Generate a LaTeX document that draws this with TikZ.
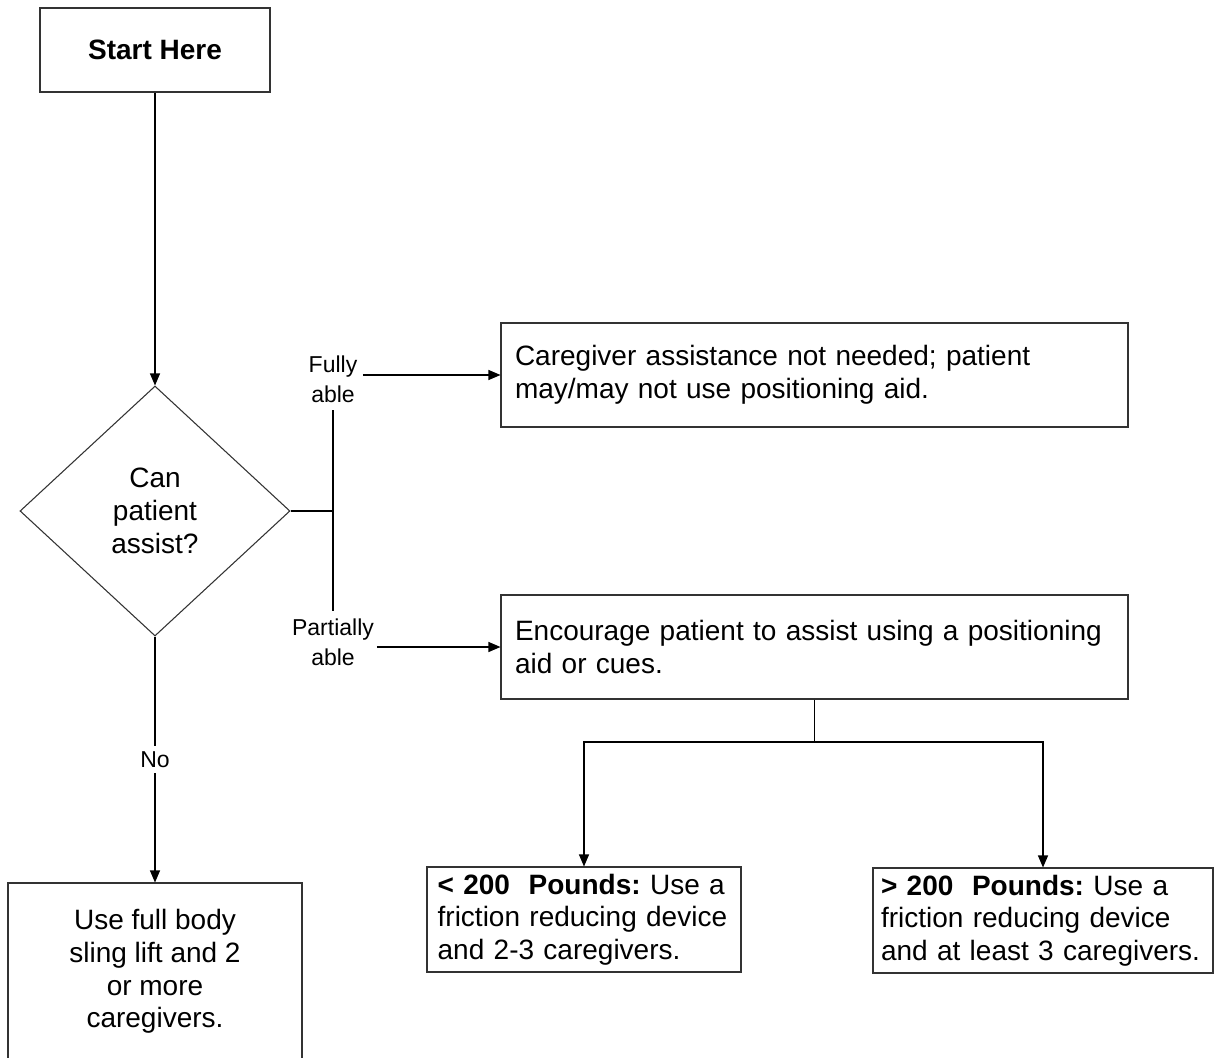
\documentclass[tikz,border=0pt]{standalone}
\usepackage{fontspec}
\setmainfont{Liberation Sans}
\usetikzlibrary{shapes.geometric,arrows.meta}
\frenchspacing
\begin{document}
\begin{tikzpicture}[x=0.75pt,y=-0.75pt,
  boxtxt/.style={font=\fontsize{21pt}{24.5pt}\selectfont},
  lbltxt/.style={font=\fontsize{17.25pt}{22.5pt}\selectfont},
  bx/.style={draw=black!80,line width=0.8pt,boxtxt,inner ysep=0pt},
  lbl/.style={lbltxt,align=center,inner sep=1pt},
  ln/.style={draw=black,line width=0.8pt},
  arr/.style={ln,-{Triangle[length=9pt,width=7.5pt]}}]
\useasboundingbox (0,0) rectangle (1220,1057);
\fill[white] (0,0) rectangle (1220,1057);
% nodes
\node[bx,minimum width=172.5pt,minimum height=63pt,align=center] (start) at (155,50) {\textbf{Start Here}};
\node[bx,shape=diamond,inner sep=0pt,minimum width=202.5pt,minimum height=187.5pt,align=center] (dia) at (155,511) {Can\\patient\\assist?};
\node[bx,minimum width=470.25pt,minimum height=78pt,inner xsep=10.5pt,text width=449.25pt,align=left] (box1) at (814.5,375)
  {Caregiver assistance not needed; patient\\may/may not use positioning aid.};
\node[bx,minimum width=470.25pt,minimum height=78pt,inner xsep=10.5pt,text width=449.25pt,align=left] (box2) at (814.5,647)
  {Encourage patient to assist using a positioning\\aid or cues.};
\node[bx,minimum width=235.5pt,minimum height=78.75pt,inner xsep=8pt,text width=219.5pt,align=left] (box3) at (584,919.5)
  {\textbf{< 200\ \ Pounds:} Use a\\friction reducing device\\and 2-3 caregivers.};
\node[bx,minimum width=255pt,minimum height=78.75pt,inner xsep=6pt,text width=243pt,align=left] (box4) at (1043,920.5)
  {\textbf{> 200\ \ Pounds:} Use a\\friction reducing device\\and at least 3 caregivers.};
\node[bx,minimum width=220.5pt,minimum height=132.75pt,align=center] (box5) at (155,971.5)
  {Use full body\\sling lift and 2\\or more\\caregivers.};
% labels
\node[lbl] (fully) at (333,379) {Fully\\able};
\node[lbl] (partial) at (333,642) {Partially\\able};
% junction coordinates
\coordinate (jm) at (333,511);
\coordinate (jt) at (333,410);
\coordinate (jb) at (333,611);
\coordinate (split) at (814.5,742);
% connectors
\draw[arr] ([xshift=3pt]fully.east |- box1.west) -- (box1.west);
\draw[arr] ([xshift=1pt]partial.east |- box2.west) -- (box2.west);
\draw[arr] (start.south) -- (dia.north);
\draw[ln] (dia.east) -- (jm);
\draw[ln] (jt) -- (jb);
\draw[ln] (box2.south) -- (split);
\draw[arr] (split) -| (box3.north);
\draw[arr] (split) -| (box4.north);
\draw[arr] (dia.south) -- node[lbltxt,fill=white,inner sep=4pt] (no) {No} (box5.north);
\end{tikzpicture}
\end{document}
